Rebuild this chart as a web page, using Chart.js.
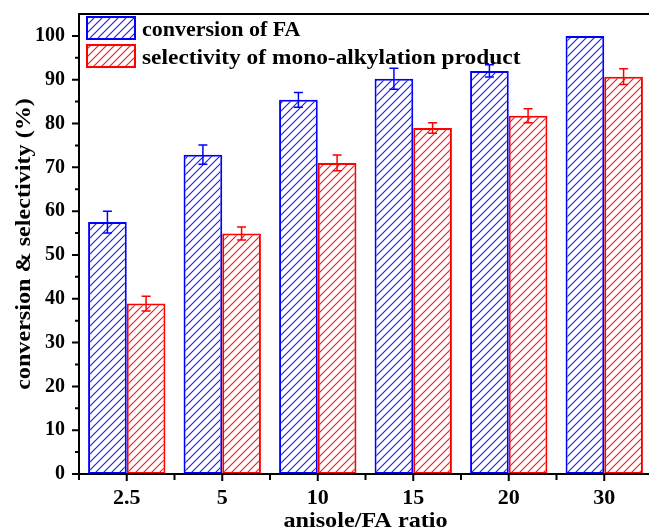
<!DOCTYPE html>
<html>
<head>
<meta charset="utf-8">
<script src="https://cdn.jsdelivr.net/npm/chart.js@4.4.0/dist/chart.umd.min.js"></script>
<style>
html,body{margin:0;padding:0;background:#fff;overflow:hidden;}
#wrap{width:664px;height:531px;}
</style>
</head>
<body>
<div id="wrap"><canvas id="c" width="664" height="531"></canvas></div>
<script>
const categories = ['2.5', '5', '10', '15', '20', '30'];
const conversion = [57.5, 72.9, 85.4, 90.2, 92.0, 100];
const conversionErr = [2.5, 2.2, 1.7, 2.4, 1.4, 0];
const selectivity = [38.9, 54.9, 71.0, 79.0, 81.8, 90.7];
const selectivityErr = [1.7, 1.5, 1.8, 1.2, 1.6, 1.8];
const yTicks = [0, 10, 20, 30, 40, 50, 60, 70, 80, 90, 100];
const yMinorTicks = [5, 15, 25, 35, 45, 55, 65, 75, 85, 95];
const seriesNames = ['conversion of FA', 'selectivity of mono-alkylation product'];
const xTitle = 'anisole/FA ratio';
const yTitle = 'conversion & selectivity (%)';

const FONT = '"Liberation Serif", "Times New Roman", serif';

function hatch(color) {
  const s = 8;
  const c = document.createElement('canvas');
  c.width = s; c.height = s;
  const g = c.getContext('2d');
  g.fillStyle = '#fff';
  g.fillRect(0, 0, s, s);
  g.strokeStyle = color;
  g.lineWidth = 1.1;
  g.beginPath();
  g.moveTo(-1, s + 1); g.lineTo(s + 1, -1);
  g.moveTo(-1, 1); g.lineTo(1, -1);
  g.moveTo(s - 1, s + 1); g.lineTo(s + 1, s - 1);
  g.stroke();
  return document.getElementById('c').getContext('2d').createPattern(c, 'repeat');
}

const blue = '#0000ff';
const red = '#ff0000';
const bluePat = hatch('#1a1ae6');
const redPat = hatch('#f01818');

const errors = [conversionErr, selectivityErr];

function stretchedText(ctx, text, x, y, sx, align) {
  ctx.save();
  ctx.translate(x, y);
  ctx.scale(sx, 1);
  ctx.textAlign = align;
  ctx.fillText(text, 0, 0);
  ctx.restore();
}

const decor = {
  id: 'decor',
  afterDatasetsDraw(chart) {
    const ctx = chart.ctx;
    const ys = chart.scales.y, xs = chart.scales.x;
    const a = chart.chartArea;
    ctx.save();
    // error bars
    chart.data.datasets.forEach((ds, di) => {
      const meta = chart.getDatasetMeta(di);
      ctx.strokeStyle = ds.borderColor;
      ctx.lineWidth = 1.5;
      meta.data.forEach((bar, i) => {
        const e = errors[di][i];
        if (!e) return;
        const v = ds.data[i];
        const yt = ys.getPixelForValue(v + e);
        const yb = ys.getPixelForValue(v - e);
        const x = bar.x;
        ctx.beginPath();
        ctx.moveTo(x, yt); ctx.lineTo(x, yb);
        ctx.moveTo(x - 4.5, yt); ctx.lineTo(x + 4.5, yt);
        ctx.moveTo(x - 4.5, yb); ctx.lineTo(x + 4.5, yb);
        ctx.stroke();
      });
    });
    // frame
    ctx.strokeStyle = '#000';
    ctx.lineWidth = 2;
    ctx.beginPath();
    ctx.moveTo(a.left - 1, a.top); ctx.lineTo(a.right, a.top);
    ctx.moveTo(a.left, a.top - 1); ctx.lineTo(a.left, a.bottom + 1);
    ctx.moveTo(a.left - 1, a.bottom); ctx.lineTo(a.right + 1, a.bottom);
    ctx.stroke();
    // y ticks
    ctx.beginPath();
    yTicks.forEach(v => { const y = ys.getPixelForValue(v); ctx.moveTo(a.left - 7, y); ctx.lineTo(a.left, y); });
    yMinorTicks.forEach(v => { const y = ys.getPixelForValue(v); ctx.moveTo(a.left - 4, y); ctx.lineTo(a.left, y); });
    // x ticks
    const w = xs.getPixelForValue(1) - xs.getPixelForValue(0);
    categories.forEach((c, i) => {
      const x = xs.getPixelForValue(i);
      ctx.moveTo(x, a.bottom); ctx.lineTo(x, a.bottom + 7);
      const xb = x - w / 2;
      ctx.moveTo(xb, a.bottom); ctx.lineTo(xb, a.bottom + 6);
    });
    ctx.stroke();
    // legend
    const pats = [bluePat, redPat], cols = [blue, red];
    const boxes = [a.top + 3, a.top + 31];
    ctx.font = 'bold 20px ' + FONT;
    ctx.textBaseline = 'alphabetic';
    seriesNames.forEach((n, i) => {
      ctx.fillStyle = pats[i];
      ctx.fillRect(a.left + 8, boxes[i], 48, 22);
      ctx.strokeStyle = cols[i];
      ctx.lineWidth = 2;
      ctx.strokeRect(a.left + 8, boxes[i], 48, 22);
      ctx.fillStyle = '#000';
      stretchedText(ctx, n, a.left + 63, boxes[i] + 19, i === 0 ? 1.1 : 1.17, 'left');
    });
    // axis titles
    ctx.fillStyle = '#000';
    ctx.font = 'bold 22px ' + FONT;
    stretchedText(ctx, xTitle, (a.left + a.right) / 2, 527, 1.1, 'center');
    ctx.save();
    ctx.translate(30, (a.top + a.bottom) / 2);
    ctx.rotate(-Math.PI / 2);
    ctx.font = 'bold 21px ' + FONT;
    stretchedText(ctx, yTitle, 0, 0, 1.15, 'center');
    ctx.restore();
    ctx.restore();
  }
};

new Chart(document.getElementById('c'), {
  type: 'bar',
  data: {
    labels: categories,
    datasets: [
      { label: seriesNames[0], data: conversion, backgroundColor: bluePat, borderColor: blue, borderWidth: 2, borderSkipped: false },
      { label: seriesNames[1], data: selectivity, backgroundColor: redPat, borderColor: red, borderWidth: 2, borderSkipped: false }
    ]
  },
  options: {
    responsive: false,
    animation: false,
    events: [],
    layout: { padding: { left: 0, top: 14, right: 12, bottom: 0 } },
    datasets: { bar: { categoryPercentage: 0.81, barPercentage: 1.0 } },
    plugins: { legend: { display: false }, tooltip: { enabled: false } },
    scales: {
      x: {
        grid: { display: false },
        border: { display: false },
        ticks: { color: '#000', font: { family: FONT, size: 22, weight: 'bold' }, padding: 3, maxRotation: 0 },
        afterFit(s) { s.height = 57; s.paddingLeft = 0; s.paddingRight = 0; }
      },
      y: {
        min: 0, max: 105,
        grid: { display: false },
        border: { display: false },
        afterBuildTicks(s) { s.ticks = yTicks.map(v => ({ value: v })); },
        ticks: { color: '#000', font: { family: FONT, size: 20, weight: 'bold' }, padding: 6 },
        afterFit(s) { s.width = 79; s.paddingTop = 0; s.paddingBottom = 0; }
      }
    }
  },
  plugins: [decor]
});
</script>
</body>
</html>
